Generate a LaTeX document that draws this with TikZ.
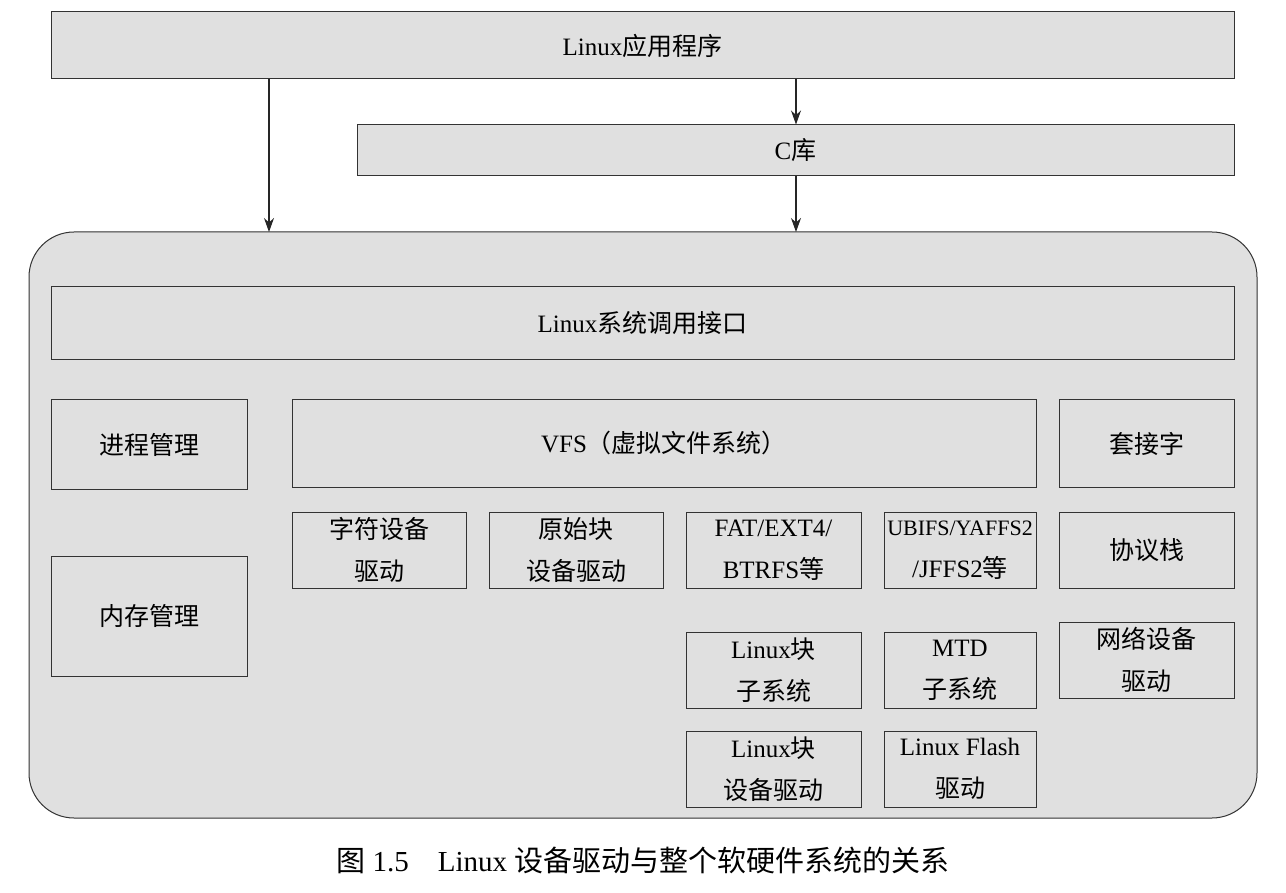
\documentclass[tikz,border=0pt]{standalone}
\usepackage{fontspec}
\setmainfont{Liberation Serif}
\newfontfamily\cjk{Noto Sans CJK SC}
\usetikzlibrary{arrows.meta}
\tikzset{bx/.style={draw=black!80,fill=black!12,line width=1pt,inner sep=0pt,align=center,font=\fontsize{25}{42}\selectfont}}
\newcommand\bx[6]{\node[bx,minimum width={(#4-#2)*1pt},minimum height={(#5-#3)*1pt}] (#1) at ({(#2+#4)/2},{(#3+#5)/2}) {#6};}
\begin{document}
\begin{tikzpicture}[x=1pt,y=-1pt]
\useasboundingbox (0,0) rectangle (1286,893);
\draw[draw=black!80,fill=black!12,line width=1pt,rounded corners=45pt] (29,232) rectangle (1257,818);
\coordinate (bigtopL) at (269,232);
\coordinate (bigtopR) at (796,232);
\bx{app}{51}{12}{1234}{79}{Linux{\cjk 应用程序}}
\bx{clib}{357}{125}{1234}{176}{C{\cjk 库}}
\bx{sys}{51}{287}{1234}{360}{Linux{\cjk 系统调用接口}}
\bx{proc}{51}{400}{247}{489}{\cjk 进程管理}
\bx{mem}{51}{556}{247}{676}{\cjk 内存管理}
\bx{vfs}{292}{400}{1036}{487}{VFS{\cjk（虚拟文件系统）}}
\bx{sock}{1059}{400}{1234}{487}{\cjk 套接字}
\bx{chr}{292}{512}{466}{588}{\cjk 字符设备\\\cjk 驱动}
\bx{raw}{489}{512}{663}{588}{\cjk 原始块\\\cjk 设备驱动}
\bx{fat}{686}{512}{861}{588}{FAT/EXT4/\\BTRFS{\cjk 等}}
\bx{ubi}{884}{512}{1036}{588}{\fontsize{22}{42}\selectfont UBIFS/YAFFS2\\/JFFS2{\cjk 等}}
\bx{proto}{1059}{512}{1234}{588}{\cjk 协议栈}
\bx{blk}{686}{632}{861}{708}{Linux{\cjk 块}\\\cjk 子系统}
\bx{mtd}{884}{632}{1036}{708}{MTD\\\cjk 子系统}
\bx{net}{1059}{622}{1234}{698}{\cjk 网络设备\\\cjk 驱动}
\bx{blkdrv}{686}{731}{861}{807}{Linux{\cjk 块}\\\cjk 设备驱动}
\bx{flash}{884}{731}{1036}{807}{Linux Flash\\\cjk 驱动}
\node[font=\fontsize{29}{32}\selectfont] (cap) at (643,860) {{\cjk 图} 1.5\quad Linux {\cjk 设备驱动与整个软硬件系统的关系}};
\tikzset{arr/.style={-{Stealth[length=14pt,width=10pt]},line width=1.1pt,black!85}}
\draw[arr] (app.south -| bigtopL) -- (bigtopL);
\draw[arr] (app.south -| bigtopR) -- (clib.north -| bigtopR);
\draw[arr] (clib.south -| bigtopR) -- (bigtopR);
\end{tikzpicture}
\end{document}
